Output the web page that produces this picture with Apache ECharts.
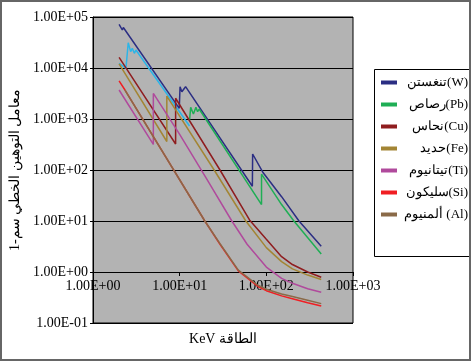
<!DOCTYPE html>
<html><head><meta charset="utf-8">
<script src="https://cdn.jsdelivr.net/npm/echarts@6/dist/echarts.min.js"></script>
<style>html,body{margin:0;padding:0;background:#fff}#c{width:472px;height:362px}</style>
</head><body><div id="c"></div>
<script>
// [energy keV, linear attenuation coefficient cm^-1]
const seriesNames = ['تنغستن(W)','رصاص(Pb)','نحاس(Cu)','حديد(Fe)','تيتانيوم(Ti)','سليكون(Si)','ألمنيوم (Al)'];
const wData  = [[2.0,71900],[2.18,55600],[2.24,62200],[9.9,1620],[10.1,4300],[10.6,3430],[11.7,4300],[69.0,48],[69.5,206],[92,88],[150,30],[238,10],[430,3.2]];
const pbLowData = [[2.0,12400],[2.4,9870],[2.55,31300],[2.72,20900],[2.84,24300],[3.0,19400],[3.13,22500],[13.0,730]];
const pbData = [[13.0,950],[13.4,1690],[14.4,1250],[15.4,1690],[16.1,1390],[16.8,1570],[88,21],[88,83],[150,21],[208,10],[430,2.25]];
const cuData = [[2.0,16200],[8.98,323],[8.98,2550],[29.2,100],[64,10.5],[100,4.4],[150,2.0],[200,1.4],[300,1.0],[430,0.79]];
const feData = [[2.0,12000],[7.11,362],[7.11,2820],[25,100],[58,10],[100,3.0],[150,1.6],[200,1.15],[300,0.87],[430,0.71]];
const tiData = [[2.0,3700],[4.97,318],[4.97,3170],[10,500],[20,72],[40,10],[60,3.5],[100,1.25],[150,0.75],[200,0.6],[300,0.47],[430,0.4]];
const siData = [[2.0,5600],[2.34,3700],[19.5,10],[29.2,3.5],[47.5,1.05],[80,0.52],[100,0.43],[150,0.34],[200,0.3],[300,0.25],[430,0.215]];
const alData = [[2.34,3700],[19.5,10],[29.2,3.6],[47.5,1.09],[80,0.55],[100,0.46],[150,0.37],[200,0.33],[300,0.28],[430,0.24]];
const yTickLabels = ['1.00E-01','1.00E+00','1.00E+01','1.00E+02','1.00E+03','1.00E+04','1.00E+05'];
const xTickLabels = ['1.00E+00','1.00E+01','1.00E+02','1.00E+03'];
const xName = 'KeV الطاقة';
const yName = 'معامل التوهين الخطي سم-1';

const colors = ['#2b2e83','#1fae55','#8f1d1f','#a38534','#b04a9c','#f01e23','#8a6a48'];
const cyan = '#2cb5e8';
const font = 'Liberation Serif, Times New Roman, serif';

const chart = echarts.init(document.getElementById('c'), null, {renderer:'canvas'});
function mk(name, data, color){
  return {name:name, type:'line', data:data, showSymbol:false, symbol:'none',
    lineStyle:{color:color, width:1.5}, itemStyle:{color:color}, animation:false};
}
const allData = [wData,pbData,cuData,feData,tiData,siData,alData];
const series = [mk('Pb-low', pbLowData, cyan)];
seriesNames.forEach((n,i)=>series.push(mk(n, allData[i], colors[i])));

chart.setOption({
  animation:false,
  grid:{left:93, top:17, right:119, bottom:39, show:true, backgroundColor:'#b3b3b3', borderColor:'#000', borderWidth:1},
  xAxis:{type:'log', logBase:10, min:1, max:1000, offset:-51,
    axisLine:{show:true, lineStyle:{color:'#000', width:1}},
    axisTick:{show:true, length:4, lineStyle:{color:'#000'}},
    splitLine:{show:false},
    axisLabel:{color:'#000', fontFamily:font, fontSize:14, margin:7,
      formatter:v=>xTickLabels[Math.round(Math.log10(v))]},
    name:xName, nameLocation:'middle', nameGap:60,
    nameTextStyle:{color:'#000', fontFamily:font, fontSize:14}},
  yAxis:{type:'log', logBase:10, min:0.1, max:100000,
    axisLine:{show:true, lineStyle:{color:'#000', width:1}},
    axisTick:{show:true, length:3, lineStyle:{color:'#000'}},
    splitLine:{show:true, lineStyle:{color:'#000', width:1}},
    axisLabel:{color:'#000', fontFamily:font, fontSize:14, margin:5,
      formatter:v=>yTickLabels[Math.round(Math.log10(v))+1]},
    name:yName, nameLocation:'middle', nameGap:68, nameRotate:90,
    nameTextStyle:{color:'#000', fontFamily:font, fontSize:14}},
  legend:{data:seriesNames, orient:'vertical', left:381, top:76, padding:0,
    itemGap:9, itemWidth:16, itemHeight:4, icon:'rect',
    formatter:n=>'{a|'+n+'}',
    textStyle:{rich:{a:{width:66, align:'right', fontFamily:font, fontSize:13, lineHeight:16, color:'#000'}}}},
  graphic:[
    {type:'rect', shape:{x:374.5, y:69.5, width:96, height:187}, style:{fill:null, stroke:'#000', lineWidth:1}, z:-1},
    {type:'rect', shape:{x:1, y:1, width:469, height:359}, style:{fill:null, stroke:'#666', lineWidth:2}}
  ],
  series:series
});
</script></body></html>
